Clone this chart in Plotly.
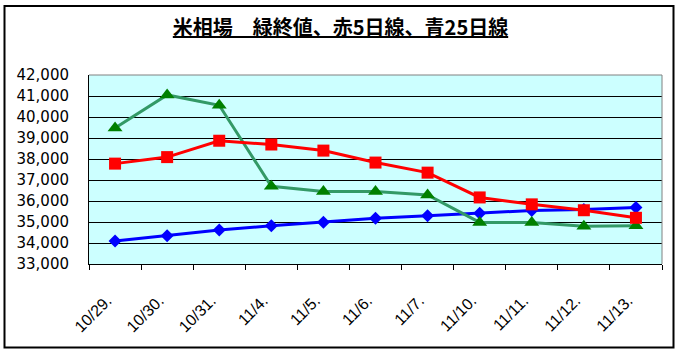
import plotly.graph_objects as go

dates = ["10/29.", "10/30.", "10/31.", "11/4.", "11/5.", "11/6.", "11/7.",
         "11/10.", "11/11.", "11/12.", "11/13."]
close_green = [39480, 41050, 40560, 36700, 36450, 36450, 36290, 34980, 34980, 34800, 34820]
ma5_red = [37780, 38090, 38870, 38690, 38400, 37830, 37350, 36170, 35840, 35560, 35200]
ma25_blue = [34090, 34350, 34620, 34820, 34990, 35180, 35300, 35420, 35550, 35600, 35690]
y_ticks = list(range(33000, 42001, 1000))

fig = go.Figure()
fig.add_trace(go.Scatter(x=dates, y=ma25_blue, mode="lines+markers",
                         line=dict(color="#0000FF", width=3),
                         marker=dict(symbol="diamond", size=10, color="#0000FF")))
fig.add_trace(go.Scatter(x=dates, y=close_green, mode="lines+markers",
                         line=dict(color="#339966", width=3),
                         marker=dict(symbol="triangle-up", size=13, color="#008000")))
fig.add_trace(go.Scatter(x=dates, y=ma5_red, mode="lines+markers",
                         line=dict(color="#FF0000", width=3),
                         marker=dict(symbol="square", size=12, color="#FF0000")))

L, R, T, B = 89, 19, 75, 92
W, H = 681, 356
pw, ph = W - L - R, H - T - B

def px(x):
    return (x - L) / pw

def py(y):
    return (H - B - y) / ph

fig.update_layout(
    width=W, height=H,
    margin=dict(l=L, r=R, t=T, b=B, pad=0),
    paper_bgcolor="white",
    plot_bgcolor="#CCFFFF",
    showlegend=False,
    title=dict(text="<b><u>米相場　緑終値、赤5日線、青25日線</u></b>",
               x=0.5, xanchor="center", y=1 - 28 / H, yanchor="middle",
               font=dict(family="Noto Sans CJK JP", size=20, color="black")),
    xaxis=dict(type="category", showgrid=False, showline=True, linecolor="black",
               linewidth=1, ticks="outside", ticklen=5, tickcolor="black",
               tickson="boundaries", tickangle=-45, ticklabelstandoff=20,
               ticklabelshift=-8,
               tickfont=dict(family="Liberation Sans", size=16, color="black"),
               range=[-0.5, len(dates) - 0.5], zeroline=False),
    yaxis=dict(range=[33000, 42000], tickvals=y_ticks, tickformat=",d",
               showgrid=True, gridcolor="black", gridwidth=1,
               showline=True, linecolor="black", linewidth=1, ticks="",
               ticklabelstandoff=16, zeroline=False,
               tickfont=dict(family="DejaVu Sans", size=15, color="black")),
    shapes=[
        dict(type="line", xref="paper", yref="paper", x0=0, x1=1, y0=1, y1=1,
             line=dict(color="#808080", width=1)),
        dict(type="line", xref="paper", yref="paper", x0=1, x1=1, y0=0, y1=1,
             line=dict(color="#808080", width=1)),
        dict(type="rect", xref="paper", yref="paper",
             x0=px(4.5), x1=px(673.5), y0=py(347.5), y1=py(6),
             line=dict(color="black", width=2), fillcolor="rgba(0,0,0,0)"),
    ],
)

fig.write_html("out.html")
